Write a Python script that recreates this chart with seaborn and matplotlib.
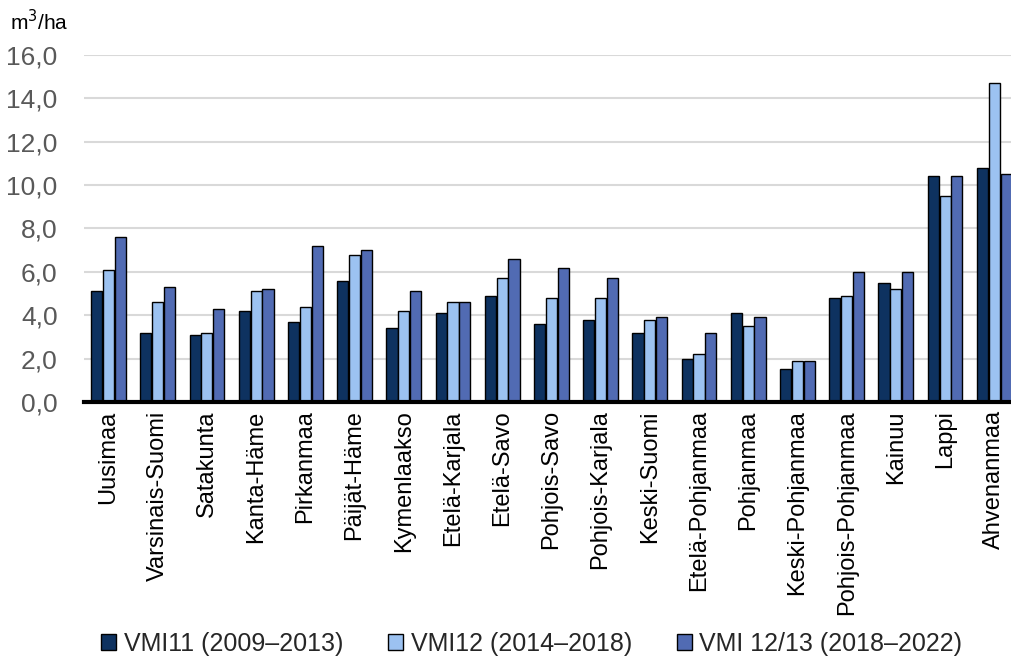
import matplotlib
matplotlib.use("Agg")
import matplotlib.pyplot as plt
import pandas as pd
import seaborn as sns

# Maakunnat ja arvot (m3/ha)
regions = ["Uusimaa", "Varsinais-Suomi", "Satakunta", "Kanta-Häme", "Pirkanmaa",
           "Päijät-Häme", "Kymenlaakso", "Etelä-Karjala", "Etelä-Savo", "Pohjois-Savo",
           "Pohjois-Karjala", "Keski-Suomi", "Etelä-Pohjanmaa", "Pohjanmaa",
           "Keski-Pohjanmaa", "Pohjois-Pohjanmaa", "Kainuu", "Lappi", "Ahvenanmaa"]
vmi11 = [5.1, 3.2, 3.1, 4.2, 3.7, 5.6, 3.4, 4.1, 4.9, 3.6,
         3.8, 3.2, 2.0, 4.1, 1.5, 4.8, 5.5, 10.4, 10.8]
vmi12 = [6.1, 4.6, 3.2, 5.1, 4.4, 6.8, 4.2, 4.6, 5.7, 4.8,
         4.8, 3.8, 2.2, 3.5, 1.9, 4.9, 5.2, 9.5, 14.7]
vmi1213 = [7.6, 5.3, 4.3, 5.2, 7.2, 7.0, 5.1, 4.6, 6.6, 6.2,
           5.7, 3.9, 3.2, 3.9, 1.9, 6.0, 6.0, 10.4, 10.5]
series = ["VMI11 (2009–2013)", "VMI12 (2014–2018)", "VMI 12/13 (2018–2022)"]
colors = ["#00306E", "#8EC0FF", "#4063C4"]

df = pd.DataFrame({
    "region": regions * 3,
    "value": vmi11 + vmi12 + vmi1213,
    "series": [series[0]] * len(regions) + [series[1]] * len(regions) + [series[2]] * len(regions),
})

sns.set_style("white")
plt.rcParams["font.family"] = ["Liberation Sans", "DejaVu Sans"]

fig = plt.figure(figsize=(10.11, 6.64), dpi=100)
ax = fig.add_axes([0.083, 0.3946, 0.917, 0.5226])

sns.barplot(data=df, x="region", y="value", hue="series", palette=colors,
            width=0.72, gap=0.06, edgecolor="black", linewidth=1.0,
            ax=ax, legend=True)

ax.set_ylim(0, 16)
ax.set_xlim(-0.5, 18.34)
ax.set_yticks(range(0, 17, 2))
ax.set_yticklabels([f"{v},0" for v in range(0, 17, 2)], fontsize=19, color="#595959")
ax.yaxis.grid(True, color="#d9d9d9", linewidth=1.5)
ax.set_axisbelow(True)
ax.tick_params(axis="y", length=0, pad=19)
ax.tick_params(axis="x", length=0, pad=6)
plt.setp(ax.get_xticklabels(), rotation=90, fontsize=17, color="black")
for side in ["left", "right", "top"]:
    ax.spines[side].set_visible(False)
ax.spines["bottom"].set_color("black")
ax.spines["bottom"].set_linewidth(3)
ax.set_xlabel("")
ax.set_ylabel("")

fig.text(0.01, 0.955, "m$^3$/ha", fontsize=15, color="black")

handles, labels = ax.get_legend_handles_labels()
ax.legend_.remove()
fig.legend(handles, labels, loc="lower left", bbox_to_anchor=(0.078, -0.022), ncol=3,
           frameon=False, fontsize=18, handlelength=0.6, handleheight=0.6,
           handletextpad=0.3, columnspacing=1.8)

fig.savefig("out.png", dpi=100)
